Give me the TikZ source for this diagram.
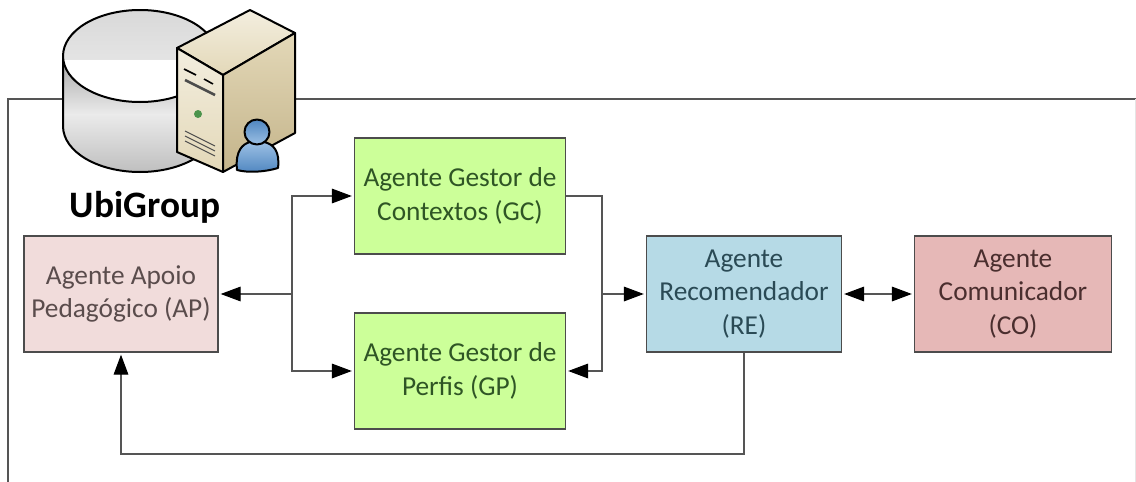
\documentclass[tikz,border=0pt]{standalone}
\usepackage{fontspec}
\setmainfont{Carlito}
\usepackage{tikz}
\usetikzlibrary{%
   arrows.meta,%
   positioning}
\definecolor{linegray}{HTML}{555555}
\definecolor{apfill}{HTML}{F1DCDB}
\definecolor{gestfill}{HTML}{CCFF99}
\definecolor{refill}{HTML}{B6DAE6}
\definecolor{cofill}{HTML}{E6B8B7}
\definecolor{aptext}{HTML}{5A4C4C}
\definecolor{gesttext}{HTML}{2F5525}
\definecolor{retext}{HTML}{2A4A55}
\definecolor{cotext}{HTML}{4A2E2E}
\definecolor{tanlight}{HTML}{F3EEDF}
\definecolor{tanmid}{HTML}{E3D8B8}
\definecolor{tandark}{HTML}{C4B48A}
\definecolor{userlight}{HTML}{9CC0E4}
\definecolor{userdark}{HTML}{4F86C0}
\tikzset{
	agent/.style={draw=black!70,line width=1pt,minimum height=87pt,inner sep=0pt,align=center,font=\fontsize{20.5}{25}\selectfont},
	link/.style={draw=linegray,line width=.9pt},
	iconline/.style={draw=black,line width=1.5pt,line join=round}
}
\begin{document}
\begin{tikzpicture}[x=.75pt,y=-.75pt,on grid,>={Triangle[length=15pt,width=11pt,black]}]
		\useasboundingbox (0,0) rectangle (1136,482);
		% frame
		\draw[link] (8,482) -- (8,99) -- (1136,99);
		\draw[black!10,line width=.75pt] (1135,99) -- (1135,482);
		% database
		\shade[top color=black!35,bottom color=black!25,middle color=black!8,iconline] (63,56) -- (63,126) .. controls (63,152) and (98,172) .. (140,172) .. controls (182,172) and (217,152) .. (217,126) -- (217,56) -- cycle;
		\fill[white] (140,56) ellipse [x radius=77,y radius=46];
		\begin{scope}
			\clip (60,5) rectangle (220,59);
			\shade[top color=black!15,bottom color=black!7] (140,56) ellipse [x radius=77,y radius=46];
		\end{scope}
		\draw[iconline] (140,56) ellipse [x radius=77,y radius=46];
		% server
		\shade[top color=tanlight,bottom color=tanmid,iconline] (177,48) -- (250,10) -- (295,33) -- (223,75) -- cycle;
		\shade[top color=tanlight,bottom color=tanmid,iconline] (177,48) -- (223,75) -- (223,172) -- (177,152) -- cycle;
		\shade[top color=tanmid,bottom color=tandark,iconline] (223,75) -- (295,33) -- (295,133) -- (223,172) -- cycle;
		\draw[black,line width=1.2pt] (184,69) -- (196,75) (204,79) -- (213,84);
		\draw[black!70,line width=2pt] (185,80) -- (215,95);
		\fill[green!40!black!70] (198,114) circle (4);
		\draw[black!70,line width=.8pt] (185,131) -- (215,146) (185,136) -- (215,151) (185,141) -- (215,156);
		% user
		\shade[top color=userlight,bottom color=userdark,iconline] (237,170) .. controls (235,150) and (243,144) .. (250,142) -- (264,142) .. controls (274,144) and (280,152) .. (278,168) .. controls (265,172) and (248,173) .. (237,170) -- cycle;
		\shade[top color=userdark,bottom color=userlight,iconline] (257,132) circle (12.5);
		\node[font=\fontsize{28}{30}\selectfont\bfseries] (ubi) at (145,207) {UbiGroup};
		% agents
		\node[agent,minimum width=145.5pt,fill=apfill,text=aptext] (AP) at (121,294) {Agente Apoio\\Pedagógico (AP)};
		\node[agent,minimum width=158.25pt,fill=gestfill,text=gesttext] (GC) [above right=73.5pt and 254.25pt of AP] {Agente Gestor de\\Contextos (GC)};
		\node[agent,minimum width=158.25pt,fill=gestfill,text=gesttext] (GP) [below=131.25pt of GC] {Agente Gestor de\\Perfis (GP)};
		\node[agent,minimum width=146.25pt,fill=refill,text=retext] (RE) [right=467.25pt of AP] {Agente\\Recomendador\\(RE)};
		\node[agent,minimum width=147.75pt,fill=cofill,text=cotext] (CO) [right=201.75pt of RE] {Agente\\Comunicador\\(CO)};
		% junctions
		\coordinate (jl) at (292,294);
		\coordinate (jr) at (602,294);
		\coordinate[below=120pt of AP] (fb);
		\draw[link,->,shorten >=1.5pt] (jl) -- (AP);
		\draw[link,->,shorten >=1.5pt] (jl) |- (GC);
		\draw[link,->,shorten >=1.5pt] (jl) |- (GP);
		\draw[link,->,shorten >=1.5pt] (jr) -- (RE);
		\draw[link,->,shorten >=1.5pt] (jr) |- (GP);
		\draw[link] (GC) -| (jr);
		\draw[link,->,shorten >=1.5pt] (RE) |- (fb) -- (AP);
		\draw[link,<->,shorten >=1.5pt,shorten <=1.5pt] (RE) -- (CO);
	\end{tikzpicture}
\end{document}
